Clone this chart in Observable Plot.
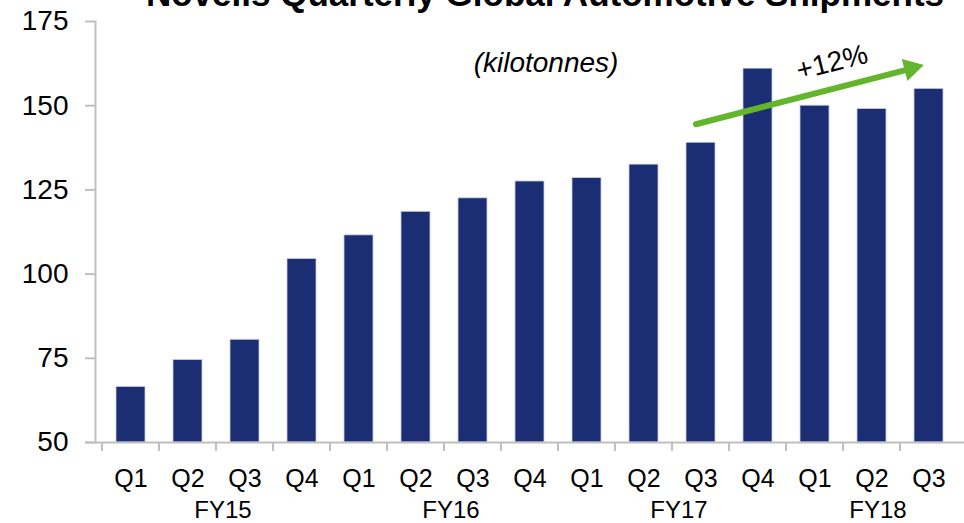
<!DOCTYPE html>
<html>
<head>
<meta charset="utf-8">
<script src="https://cdn.jsdelivr.net/npm/d3@7"></script>
<script src="https://cdn.jsdelivr.net/npm/@observablehq/plot@0.6"></script>
<style>
  html, body { margin: 0; padding: 0; background: #fff; overflow: hidden; }
  #chart svg { display: block; overflow: visible; }
</style>
</head>
<body>
<div id="chart"></div>
<script>
const quarters = ["Q1","Q2","Q3","Q4","Q1","Q2","Q3","Q4","Q1","Q2","Q3","Q4","Q1","Q2","Q3"];
const fiscalYears = ["FY15","FY15","FY15","FY15","FY16","FY16","FY16","FY16","FY17","FY17","FY17","FY17","FY18","FY18","FY18"];
const shipments = [66.5, 74.5, 80.5, 104.5, 111.5, 118.5, 122.5, 127.5, 128.5, 132.5, 139, 161, 150, 149, 155];
const yTicks = [50, 75, 100, 125, 150, 175];
const fyGroups = ["FY15", "FY16", "FY17"];
const fyLast = ["FY18"];
const titleText = "Novelis Quarterly Global Automotive Shipments";
const unitText = "(kilotonnes)";
const growthText = "+12%";
const arrowFrom = {key: "FY17 Q3", value: 144.5};
const arrowTo = {key: "FY18 Q3", value: 162};
const growthAt = {key: "FY18 Q1", value: 153.3};

const keys = quarters.map((q, i) => fiscalYears[i] + " " + q);
const data = keys.map((k, i) => ({key: k, q: quarters[i], fy: fiscalYears[i], value: shipments[i]}));

const FONT = "Liberation Sans, Arial, Helvetica, sans-serif";
const GRAY = "#bfbfbf";
const NAVY = "#1b2d73";
const GREEN = "#63b52b";

const chart = Plot.plot({
  width: 964,
  height: 523,
  marginLeft: 95,
  marginRight: 0,
  marginTop: 21,
  marginBottom: 81,
  style: {fontFamily: FONT, fontSize: "25px", color: "#000", background: "#fff"},
  x: {domain: keys, paddingInner: 0.5, paddingOuter: 0.25, axis: null},
  y: {domain: [yTicks[0], yTicks[yTicks.length - 1]], axis: null},
  marks: [
    Plot.barY(data, {x: "key", y1: yTicks[0], y2: "value", fill: NAVY, stroke: "#c9cee3", strokeWidth: 0.8}),
    // y axis
    Plot.axisY({ticks: yTicks, tickSize: 10, tickFormat: () => "", stroke: GRAY, strokeWidth: 2, label: null}),
    Plot.text(yTicks, {y: d => d, text: d => String(d), frameAnchor: "left", textAnchor: "end", lineAnchor: "middle", dx: -27, fontSize: 28, fill: "#000"}),
    Plot.frame({anchor: "left", stroke: GRAY, strokeWidth: 2}),
    Plot.ruleY([yTicks[0]], {stroke: GRAY, strokeWidth: 2, insetLeft: -10}),
    // x tick marks at category boundaries
    Plot.axisX({tickSize: 9, tickFormat: () => "", stroke: GRAY, strokeWidth: 2, dx: -29, label: null}),
    // quarter labels
    Plot.text(data, {x: "key", text: "q", frameAnchor: "bottom", lineAnchor: "middle", dy: 36, fontSize: 25, fill: "#000"}),
    // fiscal year labels
    Plot.text(fyGroups, {x: d => d + " Q2", text: d => d, frameAnchor: "bottom", lineAnchor: "middle", dy: 68, dx: 35, fontSize: 24, fill: "#000"}),
    Plot.text(fyLast, {x: d => d + " Q2", text: d => d, frameAnchor: "bottom", lineAnchor: "middle", dy: 68, dx: 6, fontSize: 24, fill: "#000"}),
    // title and unit
    Plot.text([titleText], {text: d => d, frameAnchor: "top", lineAnchor: "bottom", dy: -16, dx: 15, fontSize: 35, fontWeight: "bold", fill: "#000"}),
    Plot.text([unitText], {text: d => d, frameAnchor: "top", lineAnchor: "middle", dy: 42, dx: 16, fontSize: 28, fontStyle: "italic", fill: "#000"}),
    // growth arrow
    Plot.arrow([{from: arrowFrom, to: arrowTo}], {
      x1: d => d.from.key, y1: d => d.from.value,
      x2: d => d.to.key, y2: d => d.to.value,
      stroke: GREEN, strokeWidth: 6, headLength: 0, insetEnd: 10, dx: -5
    }),
    Plot.dot([arrowTo], {x: "key", y: "value", symbol: "triangle", r: 8.5, fill: GREEN, stroke: "none", rotate: 75.7, dx: -18, dy: 3.1}),
    Plot.text([growthAt], {x: "key", y: "value", text: () => growthText, rotate: -14, dx: 17, dy: -32, fontSize: 28, fill: "#000"})
  ]
});
document.getElementById("chart").appendChild(chart);
</script>
</body>
</html>
